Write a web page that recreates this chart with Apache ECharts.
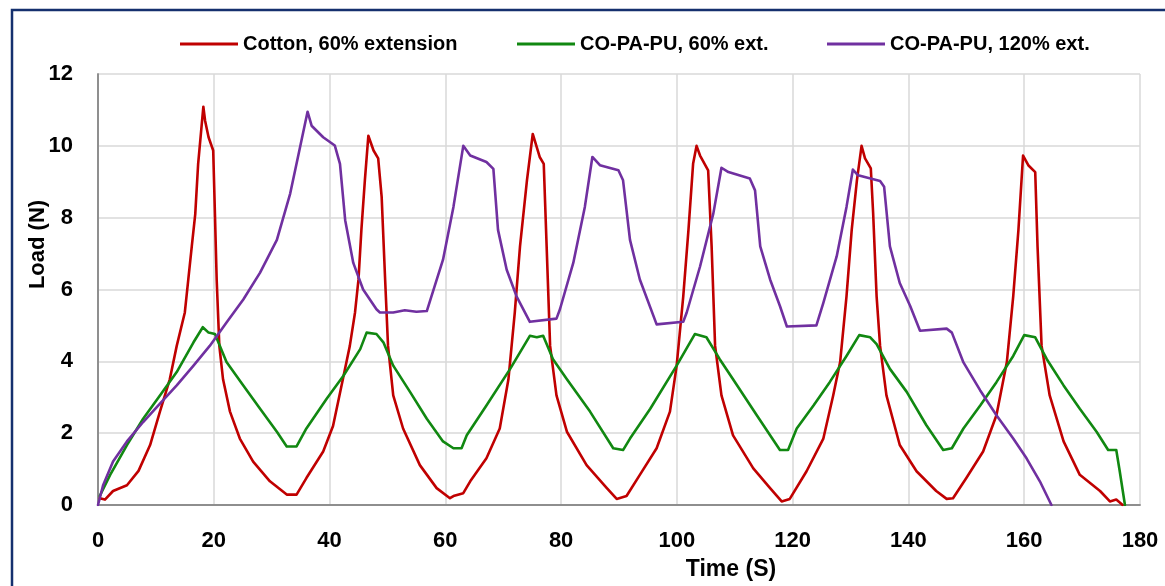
<!DOCTYPE html>
<html>
<head>
<meta charset="utf-8">
<script src="https://cdn.jsdelivr.net/npm/echarts@6/dist/echarts.min.js"></script>
<style>
html,body{margin:0;padding:0;background:#fff;}
#c{width:1165px;height:586px;}
</style>
</head>
<body>
<div id="c"></div>
<script>
const seriesNames = ['Cotton, 60% extension', 'CO-PA-PU, 60% ext.', 'CO-PA-PU, 120% ext.'];
const xTicks = [0, 20, 40, 60, 80, 100, 120, 140, 160, 180];
const yTicks = [0, 2, 4, 6, 8, 10, 12];

const cotton60 = [[0.3,0.19],[1.2,0.15],[2.6,0.39],[5,0.55],[7,0.95],[9,1.67],[10.7,2.6],[12.4,3.5],[13.6,4.43],[15,5.36],[15.6,6.28],[16.2,7.2],[16.8,8.1],[17.3,9.5],[18.2,11.09],[18.5,10.7],[19.1,10.24],[19.9,9.87],[20.2,8.1],[20.5,6.28],[20.96,4.43],[21.6,3.5],[22.8,2.6],[24.5,1.85],[26.8,1.21],[29.7,0.66],[32.6,0.29],[34.3,0.29],[36,0.75],[38.9,1.49],[40.6,2.2],[42.3,3.5],[43.5,4.43],[44.4,5.36],[45,6.28],[45.5,7.66],[46.1,9.04],[46.7,10.28],[47.6,9.87],[48.4,9.65],[49,8.58],[49.6,6.28],[50.1,4.43],[51,3.05],[52.7,2.13],[55.6,1.11],[58.5,0.47],[60.8,0.19],[61.4,0.25],[63.1,0.33],[64.3,0.66],[67.1,1.3],[69.4,2.13],[70.9,3.5],[72,5.36],[72.9,7.2],[74.1,9.04],[75.1,10.33],[76.3,9.69],[77,9.5],[77.5,7.2],[78.1,4.43],[79.2,3.05],[81,2.04],[84.4,1.11],[87.9,0.47],[89.6,0.17],[91.3,0.25],[93.6,0.84],[96.5,1.58],[98.8,2.6],[99.96,3.88],[101.1,5.81],[102,7.66],[102.8,9.5],[103.4,10.0],[104,9.73],[105.4,9.32],[106,7.2],[106.6,4.43],[107.7,3.05],[109.7,1.94],[113.2,1.02],[116.1,0.47],[118.1,0.1],[119.5,0.17],[122.4,0.94],[125.3,1.85],[127,3.05],[128.2,3.98],[129.3,5.81],[130.2,7.66],[131.1,9.04],[131.9,10.0],[132.5,9.65],[133.5,9.37],[133.9,8.13],[134.5,5.81],[135.1,4.43],[136.2,3.05],[138.5,1.67],[141.4,0.94],[144.8,0.39],[146.6,0.17],[147.7,0.19],[150,0.75],[152.9,1.49],[155.2,2.5],[157,3.98],[158.1,5.81],[159,7.66],[159.8,9.73],[160.7,9.46],[161.9,9.27],[162.3,7.2],[163,4.43],[164.4,3.05],[166.8,1.77],[169.6,0.84],[173.1,0.39],[174.8,0.1],[175.9,0.15],[177,0]];

const copapu60 = [[0.3,0.25],[2.1,0.84],[5,1.67],[7.8,2.4],[10.7,3.05],[13.6,3.7],[16.5,4.53],[18.1,4.95],[19.1,4.8],[20.2,4.76],[22.2,3.98],[25.1,3.33],[28,2.68],[30.9,2.04],[32.6,1.63],[34.3,1.63],[36,2.13],[39.5,2.96],[42.4,3.6],[45.3,4.34],[46.4,4.8],[48.1,4.76],[49.3,4.53],[51,3.88],[53.9,3.15],[56.8,2.4],[59.6,1.77],[61.4,1.58],[62.8,1.58],[63.7,1.94],[67.1,2.77],[71.2,3.79],[74.6,4.71],[75.8,4.67],[76.9,4.71],[78.6,4.06],[81,3.5],[85,2.6],[89,1.58],[90.7,1.53],[91.9,1.85],[95.4,2.68],[99.96,3.88],[103.1,4.76],[105.1,4.67],[107.4,4.06],[109.7,3.5],[113.8,2.5],[117.8,1.53],[119.2,1.53],[120.7,2.13],[123.6,2.77],[126.4,3.42],[129.3,4.15],[131.5,4.73],[133.4,4.67],[134.5,4.48],[136.8,3.79],[139.7,3.15],[143.1,2.22],[146,1.53],[147.5,1.58],[149.5,2.13],[152.4,2.77],[155.2,3.42],[158.1,4.15],[160,4.73],[161.9,4.67],[163.9,4.06],[166.8,3.33],[169.6,2.68],[172.5,2.04],[174.5,1.53],[175.9,1.53],[176.5,0.94],[177.4,0]];

const copapu120 = [[0,0],[0.9,0.56],[2.6,1.21],[5,1.77],[7.8,2.31],[10.7,2.82],[13.6,3.33],[16.5,3.88],[19.3,4.43],[22.2,5.08],[25.1,5.72],[28,6.47],[30.9,7.38],[33.2,8.67],[34.9,9.96],[36.2,10.95],[36.9,10.56],[38.9,10.24],[40.9,10.01],[41.8,9.5],[42.7,7.93],[44.1,6.74],[45.8,6.0],[48.1,5.45],[48.7,5.36],[51,5.36],[53,5.42],[55,5.38],[56.8,5.4],[57.6,5.81],[59.6,6.83],[61.4,8.3],[63.1,10.0],[64.3,9.73],[67.1,9.55],[68.3,9.36],[69.1,7.66],[70.6,6.55],[72.3,5.81],[74.6,5.1],[79.2,5.19],[79.8,5.45],[82.1,6.74],[84.1,8.3],[85.4,9.69],[86.7,9.46],[89.9,9.32],[90.7,9.04],[91.9,7.38],[93.6,6.28],[96.5,5.03],[101.1,5.1],[101.7,5.36],[104,6.64],[106.3,8.12],[107.7,9.39],[108.9,9.27],[112.6,9.09],[113.5,8.76],[114.4,7.2],[116.1,6.28],[117.8,5.54],[119,4.97],[124.1,5.0],[125.3,5.63],[127.6,6.92],[129.3,8.3],[130.4,9.34],[131.3,9.18],[135.1,9.02],[135.8,8.86],[136.8,7.2],[138.5,6.18],[140.3,5.54],[142,4.85],[146.6,4.91],[147.5,4.8],[149.5,3.97],[152.4,3.19],[155.2,2.5],[158.1,1.85],[160.4,1.3],[162.7,0.66],[164.7,0]];

const colors = ['#c00000', '#118811', '#7030a0'];
const FONT = 'Liberation Sans';

const chart = echarts.init(document.getElementById('c'), null, {renderer: 'canvas'});

function legendAt(i, left) {
  return {
    data: [seriesNames[i]], left: left, top: 29, icon: 'rect',
    itemWidth: 58, itemHeight: 3,
    textStyle: {fontFamily: FONT, fontWeight: 'bold', fontSize: 20, color: '#000'}
  };
}

function lineSeries(i, data) {
  return {
    name: seriesNames[i], type: 'line', data: data, showSymbol: false,
    color: colors[i], lineStyle: {width: 2.6, join: 'round', cap: 'round'}
  };
}

chart.setOption({
  animation: false,
  backgroundColor: '#fff',
  graphic: [{
    type: 'rect', z: 100, silent: true,
    shape: {x: 12, y: 10, width: 1180, height: 620},
    style: {fill: 'none', stroke: '#15306e', lineWidth: 2.5}
  }],
  legend: [legendAt(0, 175), legendAt(1, 512), legendAt(2, 822)],
  grid: {left: 98, right: 25, top: 74, bottom: 79, containLabel: false},
  xAxis: [{
    type: 'value', min: xTicks[0], max: xTicks[xTicks.length - 1], interval: 20,
    name: 'Time (S)', nameLocation: 'middle', nameGap: 53, nameMoveOverlap: false,
    nameTextStyle: {fontFamily: FONT, fontWeight: 'bold', fontSize: 23, color: '#000', padding: [0, 0, 0, 224]},
    axisLine: {show: true, onZero: false, lineStyle: {color: '#bfbfbf', width: 2}},
    axisTick: {show: false},
    axisLabel: {margin: 25, fontFamily: FONT, fontWeight: 'bold', fontSize: 22, color: '#000'},
    splitLine: {show: true, lineStyle: {color: '#d9d9d9', width: 1.5}}
  }, {
    type: 'value', position: 'top', min: 0, max: 180,
    axisLine: {show: true, lineStyle: {color: '#7f7f7f', width: 1.5}},
    axisTick: {show: false}, axisLabel: {show: false}, splitLine: {show: false}
  }],
  yAxis: [{
    type: 'value', min: yTicks[0], max: yTicks[yTicks.length - 1], interval: 2,
    name: 'Load (N)', nameLocation: 'middle', nameGap: 49, nameMoveOverlap: false,
    nameTextStyle: {fontFamily: FONT, fontWeight: 'bold', fontSize: 22, color: '#000', padding: [0, 0, 0, 90]},
    axisLine: {show: true, onZero: false, lineStyle: {color: '#bfbfbf', width: 2}},
    axisTick: {show: false},
    axisLabel: {margin: 25, fontFamily: FONT, fontWeight: 'bold', fontSize: 22, color: '#000'},
    splitLine: {show: true, lineStyle: {color: '#d9d9d9', width: 1.5}}
  }, {
    type: 'value', position: 'right', min: 0, max: 12,
    axisLine: {show: true, lineStyle: {color: '#7f7f7f', width: 1.5}},
    axisTick: {show: false}, axisLabel: {show: false}, splitLine: {show: false}
  }],
  series: [
    lineSeries(0, cotton60),
    lineSeries(1, copapu60),
    lineSeries(2, copapu120)
  ]
});
</script>
</body>
</html>
